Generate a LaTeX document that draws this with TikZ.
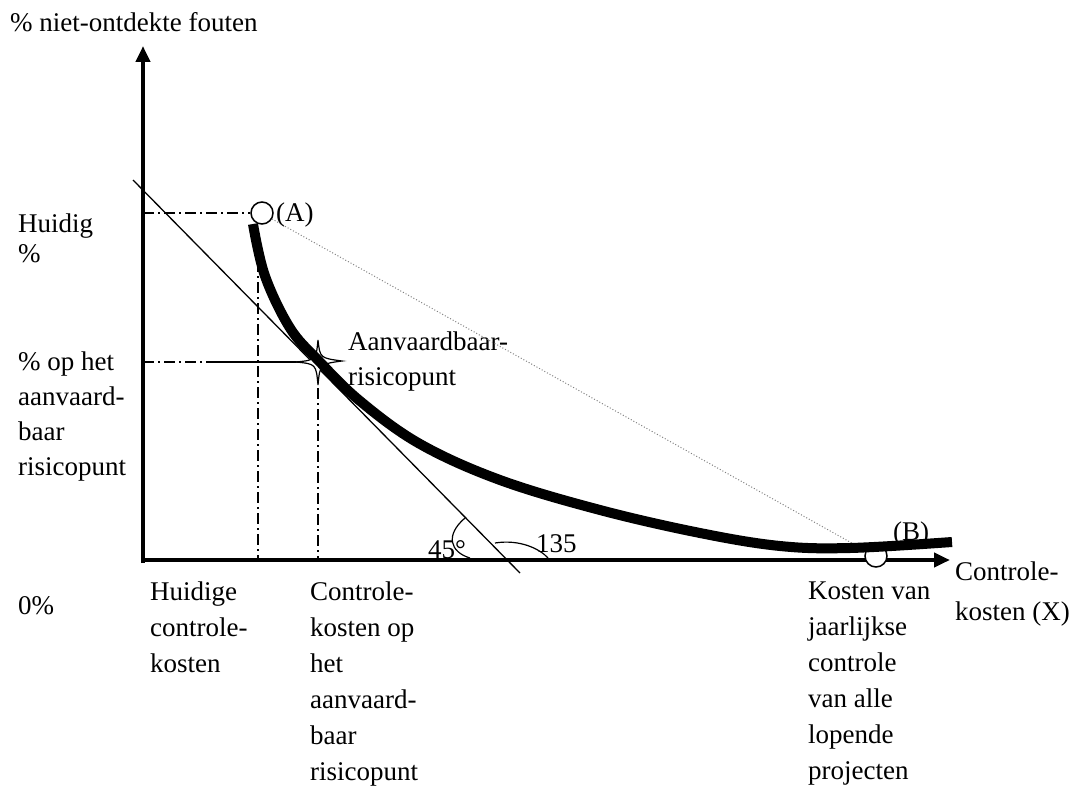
\documentclass[tikz,border=0pt]{standalone}
\usepackage{fontspec}
\setmainfont{Liberation Serif}
\usetikzlibrary{arrows.meta}

\begin{document}
\begin{tikzpicture}[x=1pt, y=-1pt,
		every node/.style={font=\fontsize{27}{36}\selectfont, inner sep=0pt},
		txt/.style={anchor=north west, align=left},
		axis/.style={line width=4.5pt, -{Triangle[length=16pt,width=14pt]}},
		dashdot/.style={line width=1.3pt, dash pattern=on 11pt off 4pt on 2pt off 4pt},
		marker/.style={circle, draw, line width=1.5pt, fill=white, minimum size=22pt}]
				\useasboundingbox (0,0) rectangle (1079,800);
				
				\coordinate (origin) at (143,560);
				\draw[axis] (143,563) -- (143,46);
				\draw[axis] (141,560) -- (950,560);
				
				\node[txt] (ylabel) at (10,12) {\% niet-ontdekte fouten};
				\node[txt] (huidig) at (18,214) {Huidig\\[-6pt]\%};
				\node[txt] (oprisico) at (18,352) {\% op het\\[-1pt]aanvaard-\\[-1pt]baar\\[-1pt]risicopunt};
				\node[txt] (nul) at (18,596) {0\%};
				\node[txt] (huidigekosten) at (150,582) {Huidige\\controle-\\kosten};
				\node[txt] (risicokosten) at (310,582) {Controle-\\kosten op\\het\\aanvaard-\\baar\\risicopunt};
				\node[txt] (allekosten) at (808,582) {Kosten van\\jaarlijkse\\controle\\van alle\\lopende\\projecten};
				\node[txt] (xlabel) at (955,562) {Controle-\\[4pt]kosten (X)};
				\node[txt] (aanvaard) at (348,332) {Aanvaardbaar-\\[-1pt]risicopunt};
				
				% hulplijnen
				\draw[dashdot] (143,213) -- (250,213);
				\draw[dashdot] (258,240) -- (258,560);
				\draw[dashdot] (143,362) -- (318,362);
				\draw[dashdot] (318,388) -- (318,560);
				
				% raaklijn en hoeken
				\draw[line width=1.3pt] (133,180) -- (520,573);
				\draw[line width=1.2pt] (465,518) .. controls (445,535) and (450,552) .. (470,558);
				\draw[line width=1.2pt] (495,543) .. controls (520,539) and (540,549) .. (548,558);
				\node[anchor=base west] (hoek45) at (428,558) {45°};
				\node[anchor=base west] (hoek135) at (536,552) {135};
				
				% stippellijn A-B
				\draw[gray, line width=1pt, dotted] (272,219) -- (866,551);
				
				\node[marker] (puntA) at (262,213) {};
				\node[anchor=base west] (labelA) at (276,221) {(A)};
				\node[marker] (puntB) at (876,556) {};
				\node[anchor=base west] (labelB) at (893,540) {(B)};
				
				% aanvaardbaar risicopunt
				\draw[line width=1.3pt] (210,362) -- (300,362);
				\draw[line width=1.2pt, fill=white] (318,340) .. controls (320,358) .. (342,361)
					.. controls (320,364) .. (318,385) .. controls (316,364) .. (296,362)
					.. controls (316,360) .. (318,340);
				
				% curve
				\draw[line width=10pt] plot[smooth, tension=0.6] coordinates
					{(253,224) (265,276) (290,328) (318,360) (360,401) (420,444) (500,480) (600,510) (700,533) (780,546) (850,548) (952,542)};
			\end{tikzpicture}
\end{document}
